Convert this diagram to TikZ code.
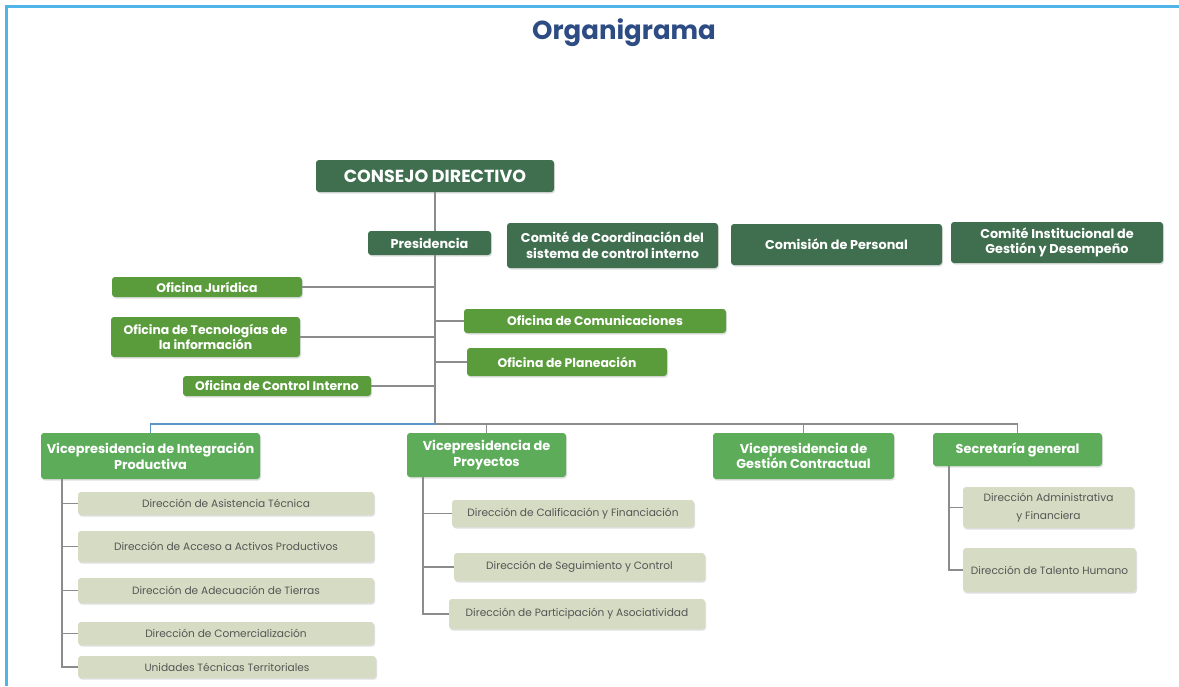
\documentclass[tikz,border=0pt]{standalone}
\usepackage{fontspec}
\setmainfont{Poppins}
\usetikzlibrary{shadows}

\definecolor{verdeOscuro}{HTML}{3F6F4F}
\definecolor{verdeMedio}{HTML}{5A9C3C}
\definecolor{verdeClaro}{HTML}{5CAC5A}
\definecolor{beige}{HTML}{D6DCC3}
\definecolor{grisTexto}{HTML}{555555}
\definecolor{grisLinea}{HTML}{8C8C8C}
\definecolor{azulMarco}{HTML}{4FB5E8}
\definecolor{azulBus}{HTML}{5A93C6}
\definecolor{azulTitulo}{HTML}{2D4C84}

\tikzset{
  caja/.style={rounded corners=3pt, align=center, inner sep=0pt,
    drop shadow={opacity=0.25, shadow xshift=1pt, shadow yshift=-1.5pt}},
  consejo/.style={caja, fill=verdeOscuro, text=white, font=\bfseries\fontsize{17.5}{20}\selectfont},
  organo/.style={caja, fill=verdeOscuro, text=white, font=\bfseries\fontsize{12.8}{15.7}\selectfont},
  oficina/.style={caja, fill=verdeMedio, text=white, font=\bfseries\fontsize{12.4}{15.5}\selectfont},
  vice/.style={caja, fill=verdeClaro, text=white, font=\bfseries\fontsize{12.9}{15.5}\selectfont},
  direccion/.style={caja, fill=beige, text=grisTexto, font=\fontsize{10.6}{18}\selectfont},
  linea/.style={draw=grisLinea, line width=1.3pt},
  lineaAzul/.style={draw=azulBus, line width=1.3pt},
}

\begin{document}
\begin{tikzpicture}[x=1pt, y=-1pt]
  \useasboundingbox (0,0) rectangle (1179,686);
  \draw[azulMarco, line width=3pt] (6,686) -- (6,6) -- (1179,6);

  \node[font=\bfseries\fontsize{26}{30}\selectfont, text=azulTitulo] (titulo) at (624,33) {Organigrama};

  % Dirección superior
  \node[consejo, minimum width=238pt, minimum height=32pt] (consejo) at (435,176) {CONSEJO DIRECTIVO};
  \node[organo, minimum width=123pt, minimum height=24pt] (presidencia) at (429.5,243) {Presidencia};
  \node[organo, minimum width=211pt, minimum height=45pt] (comiteCoord) at (612.5,245.5) {Comité de Coordinación del\\sistema de control interno};
  \node[organo, minimum width=211pt, minimum height=41pt] (comision) at (836.5,244.5) {Comisión de Personal};
  \node[organo, minimum width=212pt, minimum height=41pt] (comiteInst) at (1057,242.5) {Comité Institucional de\\Gestión y Desempeño};

  % Oficinas
  \node[oficina, minimum width=190pt, minimum height=20pt] (juridica) at (207,287) {Oficina Jurídica};
  \node[oficina, minimum width=189pt, minimum height=40pt] (tecnologias) at (205.5,337) {Oficina de Tecnologías de\\la información};
  \node[oficina, minimum width=188pt, minimum height=20pt] (controlInt) at (277,386) {Oficina de Control Interno};
  \node[oficina, minimum width=262pt, minimum height=24pt] (comunicaciones) at (595,321) {Oficina de Comunicaciones};
  \node[oficina, minimum width=200pt, minimum height=28pt] (planeacion) at (567,362) {Oficina de Planeación};

  % Vicepresidencias
  \node[vice, minimum width=219pt, minimum height=46pt] (vpIntegracion) at (150.5,456) {Vicepresidencia de Integración\\Productiva};
  \node[vice, minimum width=159pt, minimum height=44pt] (vpProyectos) at (486.5,455) {Vicepresidencia de\\Proyectos};
  \node[vice, minimum width=181pt, minimum height=46pt] (vpContractual) at (803.5,456) {Vicepresidencia de\\Gestión Contractual};
  \node[vice, minimum width=169pt, minimum height=33pt] (secretaria) at (1017.5,449.5) {Secretaría general};

  % Direcciones
  \node[direccion, minimum width=296pt, minimum height=23pt] (dirAsistencia) at (226,503.5) {Dirección de Asistencia Técnica};
  \node[direccion, minimum width=296pt, minimum height=31pt] (dirAcceso) at (226,546.5) {Dirección de Acceso a Activos Productivos};
  \node[direccion, minimum width=296pt, minimum height=25pt] (dirAdecuacion) at (226,590.5) {Dirección de Adecuación de Tierras};
  \node[direccion, minimum width=296pt, minimum height=23pt] (dirComercial) at (226,633.5) {Dirección de Comercialización};
  \node[direccion, minimum width=298pt, minimum height=22pt] (unidades) at (227,667) {Unidades Técnicas Territoriales};

  \node[direccion, minimum width=242pt, minimum height=27pt] (dirCalificacion) at (573,513.5) {Dirección de Calificación y Financiación};
  \node[direccion, minimum width=251pt, minimum height=28pt] (dirSeguimiento) at (579.5,567) {Dirección de Seguimiento y Control};
  \node[direccion, minimum width=256pt, minimum height=30pt] (dirParticipacion) at (577,614) {Dirección de Participación y Asociatividad};

  \node[direccion, minimum width=171pt, minimum height=41pt] (dirAdministrativa) at (1048.5,507.5) {Dirección Administrativa\\y Financiera};
  \node[direccion, minimum width=173pt, minimum height=44pt] (dirTalento) at (1049.5,570) {Dirección de Talento Humano};

  % Conectores
  \coordinate (bus) at (435,424);
  \coordinate (ramaIntegracion) at (62,479);
  \coordinate (ramaProyectos) at (423,477);
  \coordinate (ramaSecretaria) at (949,466);

  \draw[linea] (consejo.south -| bus) -- (presidencia.north -| bus);
  \draw[linea] (presidencia.south -| bus) -- (bus);
  \draw[linea] (juridica.east) -- (juridica.east -| bus);
  \draw[linea] (tecnologias.east) -- (tecnologias.east -| bus);
  \draw[linea] (controlInt.east) -- (controlInt.east -| bus);
  \draw[linea] (comunicaciones.west) -- (comunicaciones.west -| bus);
  \draw[linea] (planeacion.west) -- (planeacion.west -| bus);

  \draw[lineaAzul] (vpIntegracion.north) |- (bus);
  \draw[linea] (bus) -| (secretaria.north);
  \draw[linea] (vpProyectos.north) -- (vpProyectos.north |- bus);
  \draw[linea] (vpContractual.north) -- (vpContractual.north |- bus);

  \draw[linea] (ramaIntegracion) |- (unidades.west);
  \draw[linea] (dirAsistencia.west) -- (dirAsistencia.west -| ramaIntegracion);
  \draw[linea] (dirAcceso.west) -- (dirAcceso.west -| ramaIntegracion);
  \draw[linea] (dirAdecuacion.west) -- (dirAdecuacion.west -| ramaIntegracion);
  \draw[linea] (dirComercial.west) -- (dirComercial.west -| ramaIntegracion);

  \draw[linea] (ramaProyectos) |- (dirParticipacion.west);
  \draw[linea] (dirCalificacion.west) -- (dirCalificacion.west -| ramaProyectos);
  \draw[linea] (dirSeguimiento.west) -- (dirSeguimiento.west -| ramaProyectos);

  \draw[linea] (ramaSecretaria) |- (dirTalento.west);
  \draw[linea] (dirAdministrativa.west) -- (dirAdministrativa.west -| ramaSecretaria);
\end{tikzpicture}
\end{document}
